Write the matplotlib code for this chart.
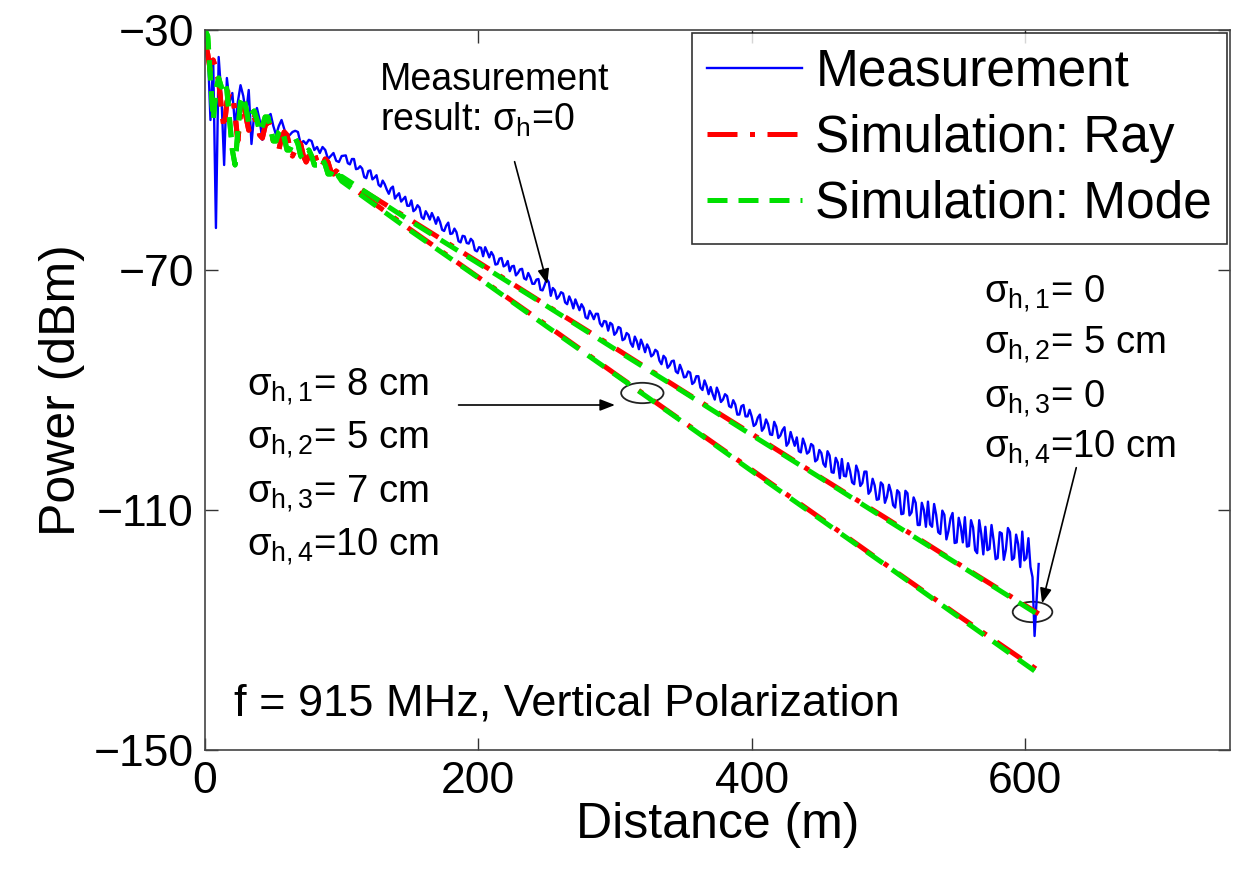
import numpy as np
import matplotlib
matplotlib.use('Agg')
import matplotlib.pyplot as plt
from matplotlib.patches import Ellipse

plt.rcParams['font.family'] = ['Liberation Sans', 'DejaVu Sans']
plt.rcParams['mathtext.fontset'] = 'custom'
plt.rcParams['mathtext.rm'] = 'Liberation Sans'
plt.rcParams['mathtext.it'] = 'Liberation Sans'
plt.rcParams['mathtext.bf'] = 'Liberation Sans:bold'

# measured power (dBm): every 2 m up to 100 m, then every 3 m ...
meas_x = np.concatenate([np.arange(0, 101, 2), np.arange(103, 608, 3), [610]])
meas_y = [
    -31, -33, -45, -35, -63, -34.5, -41, -52.5, -38, -42,
    -40.5, -46, -42, -39.2, -41, -44, -40, -49, -44, -43,
    -45, -48.3, -45.5, -44.5, -44, -46, -47.5, -46, -45, -46.5,
    -48, -47.5, -47, -46.8, -47, -49, -48.5, -49, -48.3, -48.5,
    -50, -49.5, -50.5, -49.5, -50, -51.5, -51, -50.5, -51.8, -52, -51,
    # 103 .. 148
    -50.9, -52.4, -51.5, -53.1, -53.1, -54.7, -53.4, -54.6, -55.8, -55.1,
    -56.6, -56.4, -58.1, -57.2, -58.2, -59.3,
    # 151 .. 199
    -58.4, -59.9, -59.6, -61.5, -60.8, -60.5, -62.3, -62.0, -63.5, -62.1,
    -63.9, -63.7, -65.4, -64.4, -65.6, -65.2, -66.9,
    # 202 .. 250
    -66.3, -66.2, -67.9, -67.6, -69.0, -68.0, -69.2, -70.2, -69.3, -70.5,
    -69.8, -71.6, -71.2, -72.3, -71.5, -73.4, -71.5,
    # 253 .. 301
    -74.3, -73.4, -74.4, -73.9, -75.7, -75.2, -74.9, -76.7, -76.3, -78.1,
    -77.4, -77.3, -78.9, -78.5, -80.1, -79.1, -80.4,
    # 304 .. 352
    -79.7, -81.5, -80.8, -82.8, -81.9, -81.6, -83.7, -83.1, -84.1, -83.6,
    -85.7, -84.7, -85.9, -85.1, -87.2, -86.7, -87.8,
    # 355 .. 403
    -87.1, -88.7, -87.7, -90.0, -89.3, -89.5, -91.6, -90.5, -91.6, -91.0,
    -92.9, -92.4, -94.1, -92.5, -94.4, -94.4, -95.7,
    # 406 .. 454
    -94.1, -96.3, -95.7, -97.5, -96.1, -97.6, -96.2, -98.8, -98.2, -97.9,
    -100.4, -99.1, -100.3, -99.3, -101.6, -100.5, -102.8,
    # 457 .. 505
    -100.9, -103.8, -102.1, -101.5, -104.4, -103.5, -105.7, -103.6, -105.5, -103.6,
    -106.8, -105.9, -108.2, -105.8, -107.8, -107.0, -109.6,
    # 508 .. 556
    -107.1, -110.6, -107.2, -110.4, -108.8, -112.5, -110.0, -108.6, -112.8, -110.8,
    -114.0, -110.8, -113.5, -110.5, -115.4, -112.8, -111.2,
    # 559 .. 607
    -116.0, -112.9, -117.2, -114.0, -112.8, -116.5, -115.0, -118.0, -113.9, -116.6,
    -113.7, -118.0, -115.7, -113.6, -118.0, -119.5, -131.0,
    -119.0,
]
# ... plus the samples in between (104.5, 107.5, ... 605.5)
meas_x_mid = np.arange(104.5, 607, 3)
meas_y_mid = [
    -52.2, -51.5, -53.2, -52.7, -54.5, -53.5, -54.9, -54.2, -56.1, -55.7,
    -57.3, -56.1, -57.6, -58.6, -57.8, -59.3,
    -60.2, -59.2, -61.2, -60.2, -61.6, -61.3, -61.2, -63.3, -62.6, -64.0,
    -63.1, -65.2, -64.3, -65.5, -64.8, -66.7, -66.2,
    -67.7, -67.0, -67.0, -69.1, -68.1, -69.4, -68.5, -69.4, -70.9, -69.9,
    -71.4, -70.5, -72.3, -71.6, -73.3, -72.5, -72.0,
    -73.0, -74.8, -73.7, -75.4, -74.4, -76.4, -75.8, -75.7, -77.9, -76.8,
    -78.2, -77.3, -79.4, -78.6, -78.8, -80.8, -79.5,
    -81.7, -80.5, -82.2, -81.1, -83.2, -82.5, -82.4, -84.4, -83.3, -85.1,
    -84.3, -86.3, -85.2, -86.9, -85.8, -87.9, -86.9,
    -89.0, -87.7, -89.6, -88.4, -90.7, -90.7, -89.6, -92.0, -90.7, -92.7,
    -91.7, -94.1, -92.7, -94.4, -93.3, -96.0, -94.6,
    -96.8, -94.9, -97.4, -95.3, -98.0, -96.7, -99.3, -97.0, -99.3, -100.2,
    -98.1, -100.6, -99.0, -101.9, -100.0, -102.3, -100.2,
    -103.7, -101.3, -104.7, -104.3, -102.2, -105.4, -102.6, -106.0, -103.6, -107.3,
    -104.8, -108.3, -105.4, -108.8, -105.8, -109.2, -106.7,
    -110.7, -106.8, -110.9, -107.9, -112.5, -108.8, -112.8, -112.4, -109.0, -113.7,
    -110.1, -114.9, -111.4, -115.5, -111.3, -115.4, -116.1,
    -111.7, -116.7, -111.7, -117.4, -116.7, -112.5, -118.2, -113.7, -118.3, -113.0,
    -118.3, -114.1, -119.5, -118.4, -114.7, -121.2,
]

# simulations: common near-field part, then two roughness cases
near_x = list(range(0, 100, 2))
ray_near = [-32, -34, -37, -35, -36.5, -38.5, -43, -46.5, -42, -40.5,
            -40.5, -44, -48.5, -44, -42, -44.5, -46.7, -45.5, -44.5, -45.5,
            -47.5, -48, -46, -45, -46, -48.5, -50, -50, -48, -47,
            -47.5, -49.5, -51, -50, -48.5, -49, -51, -52, -51, -50,
            -50.5, -52, -53, -52.5, -51.5, -52, -53.5, -54, -53.5, -54]
mode_near = [-30, -31, -38, -45, -40, -38, -39.5, -38.5, -40, -45,
             -50, -52.5, -47, -42, -41, -43, -45.5, -44, -43.5, -45,
             -47, -46, -44.5, -44.5, -46.5, -48.5, -48.5, -47, -46.5, -48,
             -50, -50, -49, -48, -49, -51, -51.5, -50.5, -50, -51,
             -52.5, -52.5, -51.5, -51.5, -52.5, -54, -54, -53, -53.5, -54.5]

far_x = [100, 150, 200, 250, 300, 350, 400, 450, 500, 550, 610]
ray_smooth = [-54.6, -61.6, -68.7, -75.9, -83.0, -90.2, -97.3, -104.5, -111.6, -118.8, -127.3]
ray_rough = [-55.0, -63.2, -71.2, -79.2, -87.3, -95.3, -103.3, -111.3, -119.4, -127.4, -136.8]
mode_smooth = [-54.4, -61.8, -68.9, -76.0, -83.2, -90.3, -97.5, -104.6, -111.8, -118.9, -127.5]
mode_rough = [-55.2, -63.4, -71.3, -79.4, -87.4, -95.4, -103.5, -111.5, -119.5, -127.6, -137.3]

left_labels = [r'$\sigma_{h,1}$= 8 cm', r'$\sigma_{h,2}$= 5 cm', r'$\sigma_{h,3}$= 7 cm', r'$\sigma_{h,4}$=10 cm']
right_labels = [r'$\sigma_{h,1}$= 0', r'$\sigma_{h,2}$= 5 cm', r'$\sigma_{h,3}$= 0', r'$\sigma_{h,4}$=10 cm']

mx = np.concatenate([meas_x, meas_x_mid])
my = np.concatenate([meas_y, meas_y_mid])
order = np.argsort(mx)

fig = plt.figure(figsize=(12.35, 8.73), dpi=100)
ax = fig.add_axes([205/1235, 1 - 750/873, 1025/1235, 720/873])

ax.plot(mx[order], my[order], color='#0000ff', lw=1.7, label='Measurement')
for i, yf in enumerate([ray_smooth, ray_rough]):
    ax.plot(near_x + far_x, ray_near + yf, color='#ff0000', lw=3.6,
            dashes=(6, 2.5, 1, 2.5), label='Simulation: Ray' if i == 0 else None)
for i, yf in enumerate([mode_smooth, mode_rough]):
    ax.plot(near_x + far_x, mode_near + yf, color='#00e000', lw=3.6,
            dashes=(4, 2.2), label='Simulation: Mode' if i == 0 else None)

ax.set_xlim(0, 750)
ax.set_ylim(-150, -30)
ax.set_xticks([0, 200, 400, 600])
ax.set_yticks([-150, -110, -70, -30])
ax.tick_params(direction='in', length=9, width=1, top=True, right=True,
               labelsize=32, pad=8, colors='#333333', labelcolor='black')
for s in ax.spines.values():
    s.set_color('#444444')
    s.set_linewidth(1.2)
ax.set_xlabel('Distance (m)', fontsize=36, labelpad=0)
ax.set_ylabel('Power (dBm)', fontsize=36, labelpad=6)

leg = ax.legend(loc='upper right', fontsize=37, handlelength=1.85, handletextpad=0.25,
                labelspacing=0.33, borderpad=0.3, borderaxespad=0.05, fancybox=False)
leg.get_frame().set_edgecolor('black')
leg.get_frame().set_linewidth(1.2)

# annotations
head = '-|>,head_length=0.9,head_width=0.35'
ax.text(128, -35.3, 'Measurement\nresult: $\\sigma_h$=0', fontsize=27, va='top', ha='left',
        linespacing=1.1)
ax.annotate('', xy=(251, -72.8), xytext=(226, -51.5),
            arrowprops=dict(arrowstyle=head, color='black', lw=1.2))

for lab, yb in zip(left_labels, [-90.8, -99.7, -108.7, -117.5]):
    ax.text(30.8, yb, lab, fontsize=27.5, va='baseline', ha='left')
ax.annotate('', xy=(302, -92.5), xytext=(183.5, -92.5),
            arrowprops=dict(arrowstyle=head, color='black', lw=1.2))
ax.add_patch(Ellipse((320, -90.5), 31, 3.4, fill=False, ec='#222222', lw=1.3))

for lab, yb in zip(right_labels, [-75.3, -83.8, -92.8, -101.2]):
    ax.text(570, yb, lab, fontsize=27.5, va='baseline', ha='left')
ax.annotate('', xy=(612, -126), xytext=(638, -102.5),
            arrowprops=dict(arrowstyle=head, color='black', lw=1.2))
ax.add_patch(Ellipse((605.5, -127), 29, 3.4, fill=False, ec='#222222', lw=1.3))

ax.text(21, -144.2, 'f = 915 MHz, Vertical Polarization', fontsize=32.5, va='baseline', ha='left')

fig.savefig('out.png', dpi=100)
